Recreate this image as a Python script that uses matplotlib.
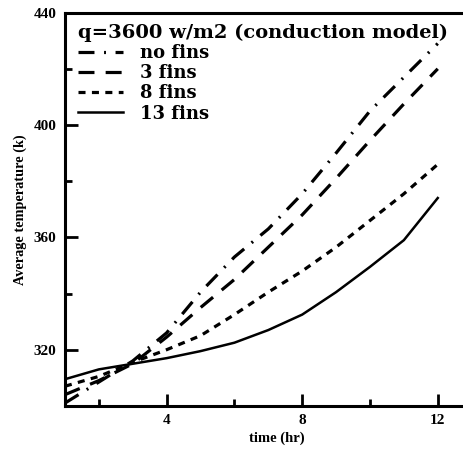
import matplotlib
matplotlib.use("Agg")
import matplotlib.pyplot as plt
from matplotlib.ticker import MultipleLocator

plt.rcParams['font.family'] = ['Liberation Serif', 'DejaVu Serif']
plt.rcParams['font.weight'] = 'bold'

# time (hr)
hours = [1, 2, 3, 4, 5, 6, 7, 8, 9, 10, 11, 12]

# average temperature (k) for each case
no_fins = [301, 308.5, 316, 326, 340.5, 353, 363, 375.5, 390, 405, 417, 429]
fins_3 = [304, 309, 315, 324.5, 335, 345, 356.5, 368, 381, 394.5, 407.5, 420]
fins_8 = [307, 310.5, 315.5, 320, 325, 332.5, 340.5, 348, 356.5, 366, 375.5, 386]
fins_13 = [309.5, 313, 315, 317, 319.5, 322.5, 327, 332.5, 340.5, 349.5, 359, 374]

labels = ["no fins", "3 fins", "8 fins", "13 fins"]

fig = plt.figure(figsize=(4.64, 4.51), dpi=100)
# axes run past the right edge of the figure, like the cropped original
ax = fig.add_axes([0.140, 0.100, 0.913, 0.872])

lw = 2.3
ax.plot(hours, no_fins, color='black', lw=lw, dashes=(5, 3, 0.6, 3), label=labels[0])
ax.plot(hours, fins_3, color='black', lw=lw, dashes=(5, 3.5), label=labels[1])
ax.plot(hours, fins_8, color='black', lw=lw, dashes=(2.2, 2), label=labels[2])
ax.plot(hours, fins_13, color='black', lw=1.8, label=labels[3])

ax.set_xlim(1, 13.5)
ax.set_ylim(300, 440)
ax.xaxis.set_major_locator(MultipleLocator(4))
ax.xaxis.set_minor_locator(MultipleLocator(2))
ax.yaxis.set_major_locator(MultipleLocator(40))
ax.yaxis.set_minor_locator(MultipleLocator(20))
ax.tick_params(which='major', direction='in', length=9, width=2, labelsize=11, pad=6)
ax.tick_params(which='minor', direction='in', length=5, width=2)
for lab in ax.get_xticklabels() + ax.get_yticklabels():
    lab.set_fontweight('bold')
for sp in ax.spines.values():
    sp.set_linewidth(2.2)
ax.spines['right'].set_visible(False)

ax.set_xlabel("time (hr)", fontsize=10.5, fontweight='bold', labelpad=3)
ax.set_ylabel("Average temperature (k)", fontsize=10.3, fontweight='bold', labelpad=5)

leg = ax.legend(title="q=3600 w/m2 (conduction model)", loc='upper left',
                bbox_to_anchor=(0.01, 0.995),
                frameon=False, handlelength=2.5, handletextpad=0.9,
                labelspacing=0.12, borderaxespad=0.3, borderpad=0.2,
                prop={'family': 'DejaVu Serif', 'weight': 'bold', 'size': 13},
                title_fontproperties={'family': 'DejaVu Serif', 'weight': 'bold', 'size': 14})
leg._legend_box.align = 'left'

fig.savefig("out.png", dpi=100)
